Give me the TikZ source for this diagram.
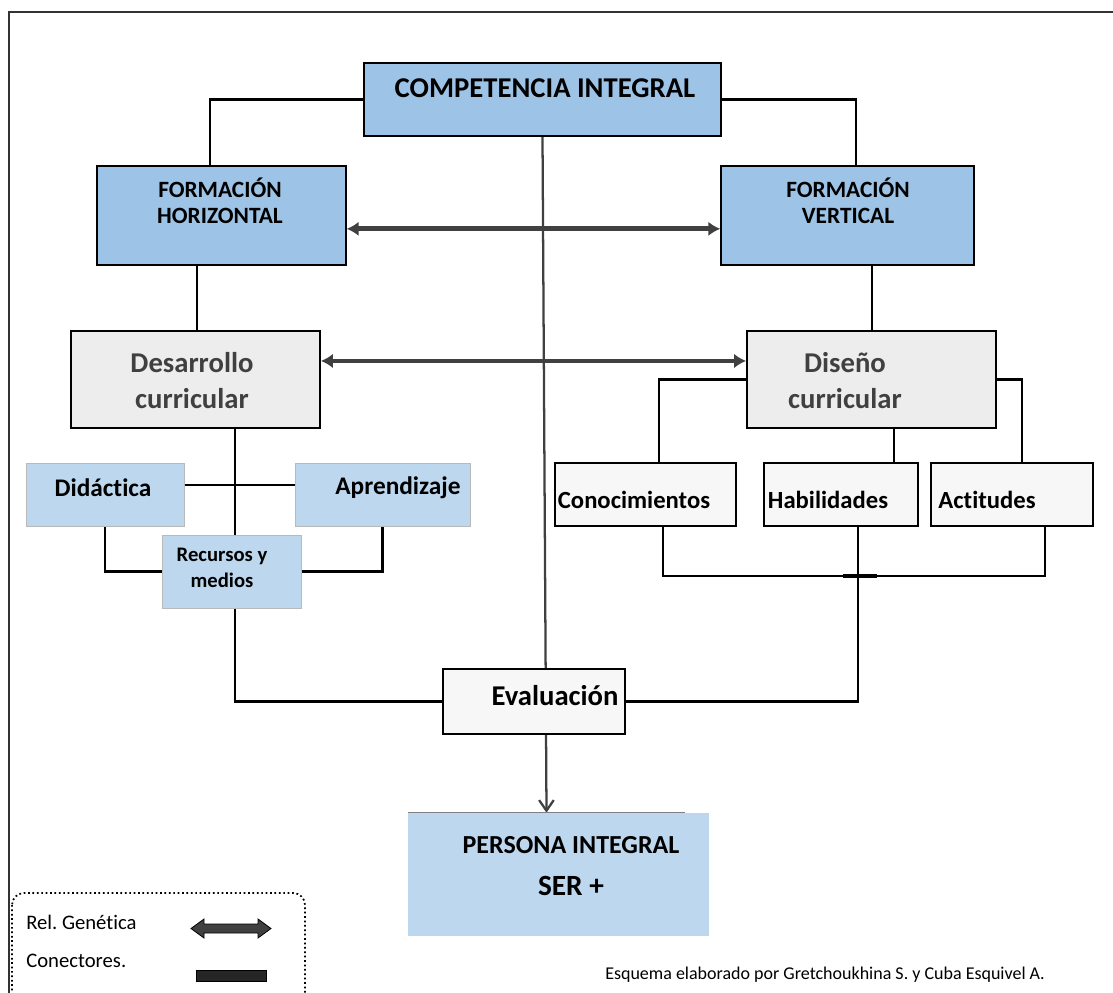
\documentclass[tikz,border=0pt]{standalone}
\usepackage{fontspec}
\setmainfont{Carlito}[RawFeature={-liga;-clig;-dlig;-calt}]
\frenchspacing
\usetikzlibrary{arrows.meta,fit,backgrounds}
\definecolor{azul}{HTML}{9DC3E6}
\definecolor{celeste}{HTML}{BDD7EE}
\definecolor{gris}{HTML}{EDEDED}
\definecolor{blanco}{HTML}{F7F7F7}
\definecolor{oscuro}{HTML}{404040}
\tikzset{
  caja/.style={draw=black, line width=1.1pt, inner sep=0pt},
  cajaclara/.style={draw=gray!55, line width=0.5pt, fill=celeste, inner sep=0pt},
  texto/.style={align=center, inner sep=0pt},
  conector/.style={line width=1.7pt},
  genetica/.style={draw=oscuro, line width=3.6pt, {Latex[length=9pt,width=11pt]}-{Latex[length=9pt,width=11pt]}},
  flecha/.style={draw=oscuro, line width=1.7pt, -{Straight Barb[length=8pt,width=11pt]}},
}
\begin{document}
\begin{tikzpicture}[x=0.75pt,y=-0.75pt]
\useasboundingbox (0,0) rectangle (1113,992);
\clip (0,0) rectangle (1113,992);
\draw[line width=1.6pt, black!80] (9,1010) -- (9,12) -- (1125,12);

% cajas
\node[caja, fill=azul, fit={(364,63) (721,136)}] (comp) {};
\node[caja, fill=azul, fit={(97,166) (346,265)}] (fh) {};
\node[caja, fill=azul, fit={(721,166) (974,265)}] (fv) {};
\node[caja, line width=1.4pt, fill=gris, fit={(71,331) (320,428)}] (des) {};
\node[caja, line width=1.4pt, fill=gris, fit={(747,331) (996,428)}] (dis) {};
\node[cajaclara, fit={(26,463) (184,526)}] (did) {};
\node[cajaclara, fit={(295,463) (470,526)}] (apr) {};
\node[cajaclara, fit={(162,535) (301,608)}] (rec) {};
\node[caja, fill=blanco, fit={(555,463) (736,526)}] (con) {};
\node[caja, fill=blanco, fit={(764,463) (918,526)}] (hab) {};
\node[caja, fill=blanco, fit={(931,463) (1093,526)}] (act) {};
\node[caja, fill=blanco, fit={(443,669) (625,734)}] (eva) {};
\node[inner sep=0pt, fill=celeste, fit={(408,813) (709,936)}] (per) {};
\draw[gray, line width=0.8pt] (per.north west) -- ([xshift=208pt]per.north west);

% textos
\node[texto, font=\bfseries\fontsize{21.5}{26}\selectfont] (comp-t) at (545,88) {COMPETENCIA INTEGRAL};
\node[texto, font=\bfseries\fontsize{17.5}{19.5}\selectfont] (fh-t) at (220,201) {FORMACIÓN\\HORIZONTAL};
\node[texto, font=\bfseries\fontsize{17.5}{19.5}\selectfont] (fv-t) at (848,201) {FORMACIÓN\\VERTICAL};
\node[texto, text=oscuro, font=\bfseries\fontsize{21.5}{27}\selectfont] (des-t) at (192,381) {Desarrollo\\curricular};
\node[texto, text=oscuro, font=\bfseries\fontsize{21.5}{27}\selectfont] (dis-t) at (845,381) {Diseño\\curricular};
\node[texto, font=\bfseries\fontsize{19}{22}\selectfont] (did-t) at (103,488) {Didáctica};
\node[texto, font=\bfseries\fontsize{19}{22}\selectfont] (apr-t) at (398,488) {Aprendizaje};
\node[texto, font=\bfseries\fontsize{15.5}{19}\selectfont] (rec-t) at (222,568) {Recursos y\\medios};
\node[texto, font=\bfseries\fontsize{18.5}{22}\selectfont] (con-t) at (634,500) {Conocimientos};
\node[texto, font=\bfseries\fontsize{18.5}{22}\selectfont] (hab-t) at (828,500) {Habilidades};
\node[texto, font=\bfseries\fontsize{18.5}{22}\selectfont] (act-t) at (987,500) {Actitudes};
\node[texto, font=\bfseries\fontsize{21.5}{26}\selectfont] (eva-t) at (555,696) {Evaluación};
\node[texto, font=\bfseries\fontsize{19.5}{23}\selectfont] (per-t) at (571,845) {PERSONA INTEGRAL};
\node[texto, font=\bfseries\fontsize{22}{26}\selectfont] (ser-t) at (571,886) {SER +};

% conectores
\coordinate (junta) at (860,576);
\begin{scope}[on background layer]
\draw[conector] (comp.west) -| ([xshift=-8.6pt]fh.north);
\draw[conector] (comp.east) -| ([xshift=6.4pt]fv.north);
\draw[conector] ([xshift=-18.4pt]fh.south) -- ([xshift=-18.4pt]fh.south |- des.north);
\draw[conector] ([xshift=18.4pt]fv.south) -- ([xshift=18.4pt]fv.south |- dis.north);
\draw[conector] (dis.west) -| ([xshift=10pt]con.north);
\draw[conector] (dis.east) -| ([xshift=7.5pt]act.north);
\draw[conector] ([xshift=16.9pt]dis.south) -- ([xshift=16.9pt]dis.south |- hab.north);
\draw[conector] ([yshift=7.1pt]did.east) -- ([yshift=7.1pt]did.east -| apr.west);
\draw[conector] ([xshift=2.6pt]rec.north |- des.south) -- ([xshift=2.6pt]rec.north);
\draw[conector] (did.south) |- (rec.west);
\draw[conector] (apr.south) |- (rec.east);
\draw[conector] ([xshift=2.6pt]rec.south) |- (eva.west);
\draw[conector] ([xshift=13.1pt]con.south) |- (junta) -| ([xshift=24.8pt]act.south);
\draw[conector] ([xshift=12.8pt]hab.south) |- (eva.east);
\draw[line width=2.6pt] ([xshift=-12.7pt]junta) -- ([xshift=12.7pt]junta);
\draw[flecha] (comp.south) -- ([xshift=3pt]comp.south |- per.north);
\draw[genetica] ([yshift=-10pt]fh.east) -- ([yshift=-10pt]fh.east -| fv.west);
\draw[genetica] ([yshift=13.9pt]des.east) -- ([yshift=13.9pt]des.east -| dis.west);
\end{scope}

% leyenda
\draw[dotted, line width=1.3pt, rounded corners=9pt] (12,893) rectangle (305,1010);
\node[texto, anchor=west, font=\fontsize{15.5}{18}\selectfont] (rel-t) at (26,922) {Rel. Gené\kern0ptt\kern0pt ica};
\node[texto, anchor=west, font=\fontsize{15.5}{18}\selectfont] (cnx-t) at (26,961) {Conectores.};
\draw[fill=oscuro, draw=black, line width=0.6pt] (191,928.5) -- (204,919) -- (204,924) -- (258,924) -- (258,919)
  -- (271,928.5) -- (258,938) -- (258,933) -- (204,933) -- (204,938) -- cycle;
\draw[fill=black!85, draw=black, line width=0.6pt] (196,970) rectangle (266,981);
\node[texto, anchor=west, font=\fontsize{13.5}{16}\selectfont] (autor) at (605,975) {Esquema elaborado por Gretchoukhina S. y Cuba Esquivel A.};
\end{tikzpicture}
\end{document}
